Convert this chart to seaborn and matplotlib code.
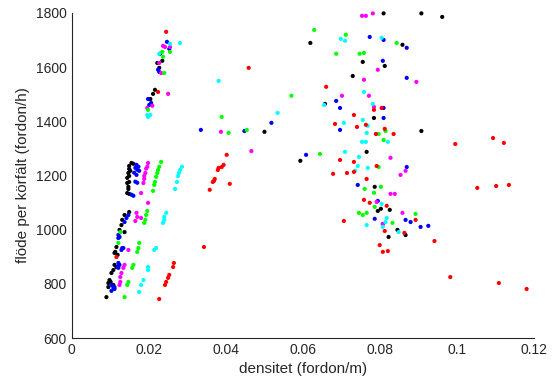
import matplotlib
matplotlib.use("Agg")
import matplotlib.pyplot as plt
import seaborn as sns
import pandas as pd

# data, one series per colour
svart_x = [0.0155, 0.0160, 0.0149, 0.0149, 0.0152, 0.0147, 0.0149, 0.0144, 0.0149, 0.0144, 0.0147, 0.0147, 0.0144, 0.0149,
           0.0149, 0.0137, 0.0131, 0.0129, 0.0124, 0.0137, 0.0116, 0.0113, 0.0111, 0.0119, 0.0111, 0.0116, 0.0108, 0.0103,
           0.0098, 0.0095, 0.0095, 0.0108, 0.0101, 0.0090,
           0.0229, 0.0235, 0.0222, 0.0227, 0.0216, 0.0211, 0.0204,
           0.0500, 0.0593, 0.0619, 0.0729, 0.0657, 0.0809, 0.0755, 0.0812, 0.0858, 0.0784, 0.0765, 0.0786, 0.0802,
           0.0794, 0.0825, 0.0845, 0.0866, 0.0822, 0.0907, 0.0961, 0.0907]
svart_y = [1246, 1243, 1235, 1224, 1217, 1209, 1198, 1191, 1176, 1172, 1158, 1150, 1135, 1132,
           1065, 1054, 1036, 1017, 999, 991, 936, 918, 914, 907, 870, 862, 851, 840,
           814, 803, 788, 796, 807, 751,
           1649, 1623, 1615, 1597, 1516, 1501, 1482,
           1361, 1254, 1689, 1567, 1464, 1798, 1619, 1604, 1682, 1412, 1287, 1158, 1077,
           1069, 1073, 999, 980, 973, 1798, 1785, 1364]

bla_x = [0.0168, 0.0173, 0.0165, 0.0170, 0.0175, 0.0162, 0.0168, 0.0165, 0.0170, 0.0155, 0.0160,
         0.0147, 0.0142, 0.0137, 0.0124, 0.0121, 0.0121, 0.0131, 0.0129, 0.0134, 0.0121, 0.0124, 0.0119, 0.0121,
         0.0103, 0.0108, 0.0111, 0.0103, 0.0111,
         0.0247, 0.0253, 0.0224, 0.0227, 0.0198, 0.0206, 0.0201,
         0.0335, 0.0448, 0.0518, 0.0608, 0.0686, 0.0696, 0.0696, 0.0742, 0.0773, 0.0809, 0.0869, 0.0807, 0.0869,
         0.0809, 0.0809, 0.0869, 0.0794, 0.0786, 0.0866, 0.0879, 0.0807, 0.0905, 0.0925]
bla_y = [1239, 1232, 1228, 1221, 1217, 1210, 1202, 1177, 1173, 1129, 1125,
         1054, 1043, 1028, 973, 980, 969, 932, 925, 932, 877, 870, 862, 859,
         796, 785, 788, 774, 781,
         1693, 1667, 1590, 1582, 1482, 1468, 1460,
         1368, 1364, 1394, 1276, 1475, 1449, 1368, 1165, 1711, 1700, 1671, 1623, 1560,
         1449, 1412, 1231, 1106, 1040, 1036, 1028, 1021, 1010, 1014]

magenta_x = [0.0198, 0.0196, 0.0193, 0.0191, 0.0188, 0.0188, 0.0186, 0.0180, 0.0198,
             0.0168, 0.0170, 0.0165, 0.0180, 0.0147,
             0.0137, 0.0134, 0.0129, 0.0126, 0.0126, 0.0124,
             0.0237, 0.0242, 0.0255, 0.0227, 0.0232, 0.0250, 0.0209, 0.0196,
             0.0387, 0.0466, 0.0701, 0.0781, 0.0753, 0.0763, 0.0794, 0.0758, 0.0894, 0.0771, 0.0784,
             0.0827, 0.0866, 0.0853, 0.0827, 0.0838, 0.0791, 0.0858, 0.0807]
magenta_y = [1246, 1232, 1225, 1209, 1198, 1187, 1172, 1135, 1099,
             1062, 1047, 1032, 1043, 925,
             870, 859, 840, 825, 807, 796,
             1678, 1674, 1674, 1615, 1578, 1501, 1457, 1449,
             1361, 1290, 1494, 1798, 1789, 1789, 1590, 1553, 1545, 1494, 1453,
             1265, 1217, 1202, 1132, 1132, 1102, 1062, 1021]

gron_x = [0.0232, 0.0227, 0.0224, 0.0222, 0.0219, 0.0216, 0.0214, 0.0211,
          0.0196, 0.0193, 0.0191, 0.0188, 0.0126, 0.0121, 0.0170, 0.0173, 0.0175,
          0.0160, 0.0157, 0.0147, 0.0144, 0.0137,
          0.0255, 0.0235, 0.0237, 0.0240, 0.0198,
          0.0389, 0.0407, 0.0454, 0.0570, 0.0644, 0.0629, 0.0711, 0.0686, 0.0745, 0.0843, 0.0747, 0.0758,
          0.0814, 0.0796, 0.0809, 0.0796, 0.0802, 0.0760, 0.0784, 0.0786, 0.0765, 0.0755, 0.0892, 0.0832]
gron_y = [1250, 1232, 1220, 1209, 1195, 1176, 1165, 1143,
          1069, 1054, 1036, 1025, 991, 951, 918, 932, 951,
          870, 859, 807, 796, 751,
          1656, 1656, 1638, 1578, 1442,
          1416, 1357, 1368, 1494, 1279, 1737, 1719, 1649, 1062, 1689, 1649, 1652,
          1364, 1353, 1331, 1231, 1158, 1150, 1136, 1084, 1062, 1054, 1058, 1025]

cyan_x = [0.0286, 0.0281, 0.0278, 0.0276, 0.0273, 0.0268,
          0.0245, 0.0240, 0.0240, 0.0237, 0.0214, 0.0219,
          0.0198, 0.0198, 0.0186, 0.0180, 0.0175,
          0.0255, 0.0281, 0.0227, 0.0196, 0.0204, 0.0198,
          0.0381, 0.0534, 0.0698, 0.0709, 0.0655, 0.0706, 0.0709, 0.0745, 0.0742, 0.0735, 0.0804, 0.0758, 0.0781,
          0.0755, 0.0768, 0.0765, 0.0753, 0.0763, 0.0820, 0.0768, 0.0804, 0.0817, 0.0814, 0.0765, 0.0807, 0.0848]
cyan_y = [1232, 1220, 1209, 1198, 1176, 1150,
          1062, 1047, 1036, 1025, 925, 932,
          862, 851, 814, 796, 770,
          1686, 1689, 1649, 1423, 1423, 1416,
          1549, 1431, 1704, 1697, 1460, 1394, 1287, 1268, 1235, 1217, 1708, 1508, 1464,
          1405, 1383, 1357, 1324, 1324, 1324, 1228, 1095, 1043, 1028, 1017, 1010, 991]

rod_x = [0.0265, 0.0263, 0.0253, 0.0250, 0.0245, 0.0242, 0.0227, 0.0116,
         0.0245, 0.0224,
         0.0459, 0.0402, 0.0394, 0.0389, 0.0381, 0.0379, 0.0371, 0.0369, 0.0366, 0.0410, 0.0358, 0.0343,
         0.0660, 0.0732, 0.0683, 0.0740, 0.0696, 0.0732, 0.0678, 0.0714, 0.0732, 0.0706, 0.0784, 0.0804,
         0.0763, 0.0812, 0.0789, 0.0835, 0.0791, 0.0765, 0.0758, 0.0773, 0.0817, 0.0892, 0.0812, 0.0863,
         0.0941, 0.0799, 0.0820, 0.0807, 0.0982, 0.1108, 0.1180, 0.0995, 0.1093, 0.1121, 0.1052, 0.1101, 0.1134]
rod_y = [877, 862, 833, 822, 807, 796, 744, 899,
         1730, 1508,
         1597, 1276, 1239, 1231, 1228, 1220, 1187, 1180, 1176, 1169, 1147, 936,
         1527, 1423, 1390, 1379, 1257, 1250, 1206, 1209, 1213, 1032, 1442, 1449,
         1387, 1372, 1353, 1353, 1235, 1187, 1110, 1099, 1088, 1036, 995, 988,
         958, 943, 921, 918, 825, 803, 781, 1316, 1338, 1320, 1154, 1161, 1165]

serier = {"k": (svart_x, svart_y), "b": (bla_x, bla_y), "m": (magenta_x, magenta_y),
          "g": (gron_x, gron_y), "c": (cyan_x, cyan_y), "r": (rod_x, rod_y)}
farger = {"k": "#000000", "b": "#0000ff", "m": "#ff00ff", "g": "#00ff00", "c": "#00ffff", "r": "#ff0000"}

df = pd.concat([pd.DataFrame({"densitet": x, "flode": y, "serie": namn})
                for namn, (x, y) in serier.items()], ignore_index=True)

sns.set_style("white")
plt.rcParams["font.family"] = ["Liberation Sans", "DejaVu Sans"]

fig = plt.figure(figsize=(5.56, 3.89), dpi=100)
ax = fig.add_axes([0.129, 0.131, 0.832, 0.836])

sns.scatterplot(data=df, x="densitet", y="flode", hue="serie", palette=farger,
                s=9, linewidth=0, legend=False, ax=ax, clip_on=False)

ax.set_xlim(0, 0.12)
ax.set_ylim(600, 1800)
ax.set_xticks([0, 0.02, 0.04, 0.06, 0.08, 0.1, 0.12])
ax.set_xticklabels(["0", "0.02", "0.04", "0.06", "0.08", "0.1", "0.12"])
ax.set_yticks(range(600, 1801, 200))
ax.set_xlabel("densitet (fordon/m)", fontsize=11, color="#262626")
ax.set_ylabel("flöde per körfält (fordon/h)", fontsize=11, color="#262626")
ax.tick_params(direction="in", length=4, width=0.8, colors="#262626", labelsize=10)
sns.despine(ax=ax)
for side in ["left", "bottom"]:
    ax.spines[side].set_color("#262626")
    ax.spines[side].set_linewidth(0.8)

fig.savefig("out.png", dpi=100)
